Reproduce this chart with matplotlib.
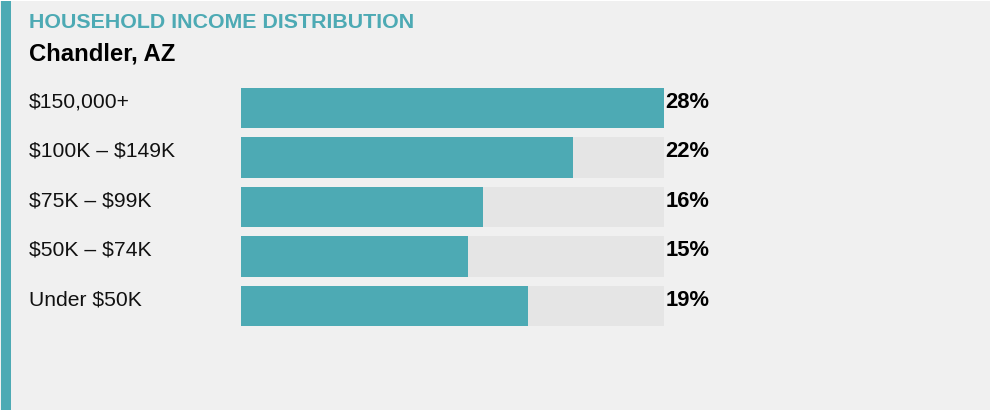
import matplotlib
matplotlib.use("Agg")
import matplotlib.pyplot as plt
from matplotlib.patches import Rectangle
import matplotlib.transforms as mtransforms

plt.rcParams['font.family'] = ['Liberation Sans', 'DejaVu Sans']
plt.rcParams['text.parse_math'] = False  # labels contain "$"

# Data
title = "HOUSEHOLD INCOME DISTRIBUTION"
subtitle = "Chandler, AZ"
brackets = ["$150,000+", "$100K – $149K", "$75K – $99K", "$50K – $74K", "Under $50K"]
shares = [28, 22, 16, 15, 19]

teal = "#4daab4"
track = "#e5e5e5"
panel_bg = "#f0f0f0"

W, H = 990, 412
fig = plt.figure(figsize=(W / 100, H / 100), dpi=100)
fig.patch.set_facecolor("white")

# panel background and left accent stripe
fig.patches.append(Rectangle((0, 2 / H), 1, 1 - 3 / H, transform=fig.transFigure,
                             facecolor=panel_bg, edgecolor="none", zorder=-2))
fig.patches.append(Rectangle((1 / W, 2 / H), 10 / W, 1 - 3 / H, transform=fig.transFigure,
                             facecolor=teal, edgecolor="none", zorder=-1))

fig.text(29 / W, 1 - 22.5 / H, title, color=teal, fontsize=15.4, fontweight="bold", va="center")
fig.text(29 / W, 1 - 53.5 / H, subtitle, color="black", fontsize=17.2, fontweight="bold", va="center")

# bar area
pitch = 49.5
ax_top = 108 - pitch / 2
ax_h = pitch * len(brackets)
ax = fig.add_axes([241 / W, 1 - (ax_top + ax_h) / H, 423 / W, ax_h / H])
ax.set_facecolor("none")

ypos = list(range(len(brackets)))
vmax = max(shares)
ax.barh(ypos, [vmax] * len(shares), height=0.81, color=track, edgecolor="none")
ax.barh(ypos, shares, height=0.81, color=teal, edgecolor="none")
ax.set_xlim(0, vmax)
ax.set_ylim(len(brackets) - 0.5, -0.5)
ax.axis("off")

lab_tr = mtransforms.blended_transform_factory(fig.transFigure, ax.transData)
val_tr = mtransforms.blended_transform_factory(ax.transAxes, ax.transData)
for i, (name, v) in enumerate(zip(brackets, shares)):
    ax.text(29 / W, i - 0.13, name, transform=lab_tr, fontsize=15.2, va="center", ha="left",
            color="#111111")
    ax.text(1.004, i - 0.12, f"{v}%", transform=val_tr, fontsize=15.8, fontweight="bold",
            va="center", ha="left", color="black")

fig.savefig("out.png", dpi=100, facecolor=fig.get_facecolor())
